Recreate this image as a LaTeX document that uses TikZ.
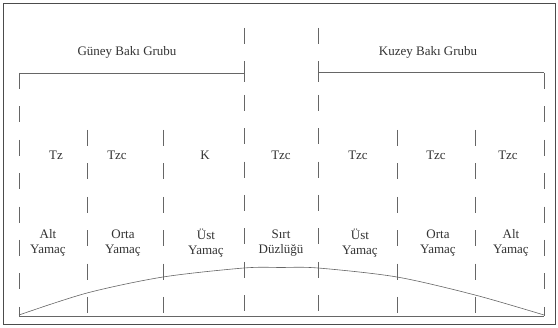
\documentclass[tikz,border=0pt]{standalone}
\usepackage{fontspec}
\setmainfont{Liberation Serif}
\begin{document}
\begin{tikzpicture}[x=1pt,y=-1pt,
  frame/.style={draw=black!70,line width=0.7pt},
  ln/.style={draw=black!60,line width=0.6pt},
  dl/.style={draw=black!60,line width=0.6pt,dash pattern=on 16pt off 17.4pt},
  lbl/.style={inner sep=0pt,text=black!80,font=\fontsize{13}{15}\selectfont,align=center}]
\useasboundingbox (0,0) rectangle (558,328);
\fill[white] (0,0) rectangle (558,328);
\draw[frame] (3,3) rectangle (555,324);
% coordinates of dividers
\foreach \n/\x/\t in {a/19/73,b/87/130,c/163/130,d/244/28,e/318/28,f/397/130,g/475/130,h/544/73}{
  \coordinate (\n t) at (\x,\t);
  \coordinate (\n b) at (\x,316);
}
\foreach \n in {a,b,c,d,e,f,g,h}{\draw[dl] (\n t) -- (\n b);}
% brackets
\coordinate (gl) at (19,73);
\coordinate (gr) at (244,73);
\coordinate (kl) at (318,72);
\coordinate (kr) at (544,72);
\draw[ln] (gl) -- (gr);
\draw[ln] (kl) -- (kr);
\draw[ln] (244,67) -- (244,82);
\draw[ln] (318,67) -- (318,82);
% baseline
\draw[ln] (ab) -- (hb);
% group labels
\node[lbl] (guney) at (127,52) {Güney Bakı Grubu};
\node[lbl] (kuzey) at (428,52) {Kuzey Bakı Grubu};
% formation labels
\node[lbl] (f1) at (56,155) {Tz};
\node[lbl] (f2) at (117,155) {Tzc};
\node[lbl] (f3) at (205,155) {K};
\node[lbl] (f4) at (281,155) {Tzc};
\node[lbl] (f5) at (358,155) {Tzc};
\node[lbl] (f6) at (436,155) {Tzc};
\node[lbl] (f7) at (508,155) {Tzc};
% slope labels
\node[lbl] (s1) at (48,243) {Alt\\Yamaç};
\node[lbl] (s2) at (123,243) {Orta\\Yamaç};
\node[lbl] (s3) at (206,243) {Üst\\Yamaç};
\node[lbl] (s4) at (281,243) {Sırt\\Düzlüğü};
\node[lbl] (s5) at (360,243) {Üst\\Yamaç};
\node[lbl] (s6) at (438,243) {Orta\\Yamaç};
\node[lbl] (s7) at (511,243) {Alt\\Yamaç};
% profile curve
\draw[ln] plot[smooth,tension=0.5] coordinates {(19,315) (87,293) (163,277) (244,268) (281,267.5) (318,268) (397,277) (475,295) (544,315)};
\end{tikzpicture}
\end{document}
